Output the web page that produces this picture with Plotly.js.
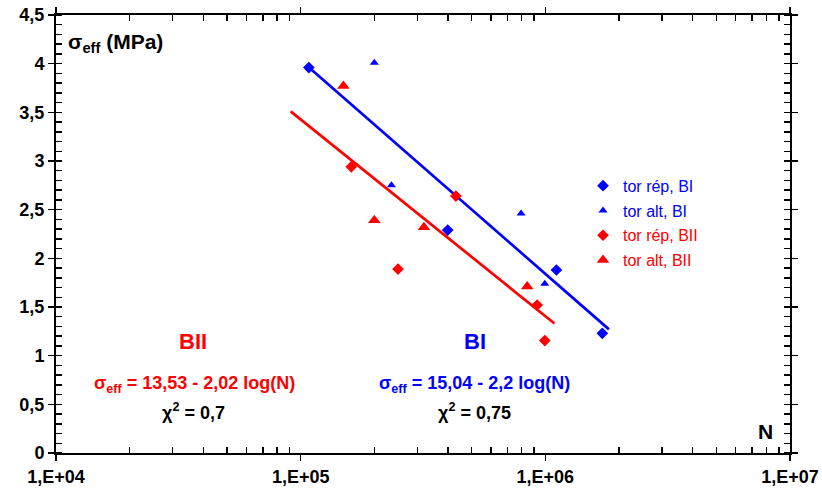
<!DOCTYPE html>
<html>
<head>
<meta charset="utf-8">
<script src="https://cdn.plot.ly/plotly-3.0.1.min.js"></script>
<style>html,body{margin:0;padding:0;background:#fff;}#chart{width:822px;height:494px;}</style>
</head>
<body>
<div id="chart"></div>
<script>
// Data
const repBI_N   = [1.08e5, 3.99e5, 1.11e6, 1.71e6];
const repBI_s   = [3.96, 2.29, 1.88, 1.23];
const altBI_N   = [2.0e5, 2.35e5, 7.96e5, 9.95e5];
const altBI_s   = [4.01, 2.75, 2.46, 1.74];
const repBII_N  = [1.61e5, 2.50e5, 4.31e5, 9.26e5, 9.95e5];
const repBII_s  = [2.94, 1.89, 2.64, 1.52, 1.155];
const altBII_N  = [1.495e5, 2.0e5, 3.19e5, 8.43e5];
const altBII_s  = [3.77, 2.39, 2.32, 1.71];
const fitBI_N   = [1.07e5, 1.82e6];
const fitBI_s   = [3.97, 1.27];
const fitBII_N  = [9.1e4, 1.09e6];
const fitBII_s  = [3.51, 1.33];
const xTickVals = [1e4, 1e5, 1e6, 1e7];
const xTickText = ['1,E+04', '1,E+05', '1,E+06', '1,E+07'];
const seriesNames = ['tor rép, BI', 'tor alt, BI', 'tor rép, BII', 'tor alt, BII'];

const BLUE = '#0000FF', RED = '#FF0000';
const FONT = 'Liberation Sans, Arial, sans-serif';

const minorX = [];
for (let d = 4; d < 7; d++) for (let m = 2; m <= 9; m++) minorX.push(m * Math.pow(10, d));

const traces = [
  {x: fitBI_N, y: fitBI_s, mode: 'lines', line: {color: BLUE, width: 2.7}, showlegend: false, hoverinfo: 'skip'},
  {x: fitBII_N, y: fitBII_s, mode: 'lines', line: {color: RED, width: 2.7}, showlegend: false, hoverinfo: 'skip'},
  {x: repBI_N, y: repBI_s, mode: 'markers', name: '<span style="color:#0000FF">' + seriesNames[0] + '</span>',
   legendgroup: 'a', marker: {symbol: 'diamond', size: 9, color: BLUE}},
  {x: altBI_N, y: altBI_s, mode: 'markers', name: '<span style="color:#0000FF">' + seriesNames[1] + '</span>',
   legendgroup: 'b', marker: {symbol: 'triangle-up', size: 8, color: BLUE}},
  {x: repBII_N, y: repBII_s, mode: 'markers', name: '<span style="color:#FF0000">' + seriesNames[2] + '</span>',
   legendgroup: 'c', marker: {symbol: 'diamond', size: 9, color: RED}},
  {x: altBII_N, y: altBII_s, mode: 'markers', name: '<span style="color:#FF0000">' + seriesNames[3] + '</span>',
   legendgroup: 'd', marker: {symbol: 'triangle-up', size: 11, color: RED}}
];

function ann(text, x, y, size, color, xanchor) {
  return {text: text, x: x, y: y, xref: 'paper', yref: 'paper', showarrow: false,
          xanchor: xanchor || 'center', yanchor: 'middle',
          font: {family: FONT, size: size, color: color, weight: 'bold'}};
}

const layout = {
  width: 822, height: 494,
  margin: {l: 55.5, r: 32, t: 15, b: 40.5},
  paper_bgcolor: '#fff', plot_bgcolor: '#fff',
  separators: ', ',
  font: {family: FONT, color: '#000'},
  showlegend: true,
  legend: {x: 0.718, y: 0.649, xanchor: 'left', yanchor: 'top', bgcolor: 'rgba(0,0,0,0)',
           font: {family: FONT, size: 16}, traceorder: 'grouped', tracegroupgap: 1,
           itemwidth: 30},
  xaxis: {
    type: 'log', range: [4, 7], tickmode: 'array', tickvals: xTickVals, ticktext: xTickText,
    ticks: 'outside', ticklen: 6, tickwidth: 1.5, tickcolor: '#000',
    showline: true, linecolor: '#000', linewidth: 2, mirror: 'ticks',
    showgrid: false, zeroline: false,
    tickfont: {family: FONT, size: 18, weight: 'bold', color: '#000'},
    minor: {tickmode: 'array', tickvals: minorX, ticks: 'inside', ticklen: 6, tickwidth: 1.5, tickcolor: '#000', showgrid: false}
  },
  yaxis: {
    range: [0, 4.5], dtick: 0.5, tick0: 0,
    ticks: 'outside', ticklen: 6, tickwidth: 1.5, tickcolor: '#000',
    showline: true, linecolor: '#000', linewidth: 2, mirror: 'ticks',
    showgrid: false, zeroline: false,
    tickfont: {family: FONT, size: 18, weight: 'bold', color: '#000'},
    minor: {dtick: 0.1, ticks: 'inside', ticklen: 6, tickwidth: 1.5, tickcolor: '#000', showgrid: false}
  },
  annotations: [
    ann('σ<sub>eff</sub> (MPa)', 0.013, 0.936, 21, '#000', 'left'),
    ann('N', 0.967, 0.049, 21, '#000'),
    ann('BII', 0.187, 0.254, 22, RED),
    ann('BI', 0.571, 0.254, 22, BLUE),
    ann('σ<sub>eff</sub> = 13,53 - 2,02 log(N)', 0.189, 0.156, 18, RED),
    ann('χ<sup>2</sup> = 0,7', 0.188, 0.095, 18, '#000'),
    ann('σ<sub>eff</sub> = 15,04 - 2,2 log(N)', 0.570, 0.156, 18, BLUE),
    ann('χ<sup>2</sup> = 0,75', 0.570, 0.095, 18, '#000')
  ]
};

Plotly.newPlot('chart', traces, layout, {staticPlot: true, displayModeBar: false});
</script>
</body>
</html>
